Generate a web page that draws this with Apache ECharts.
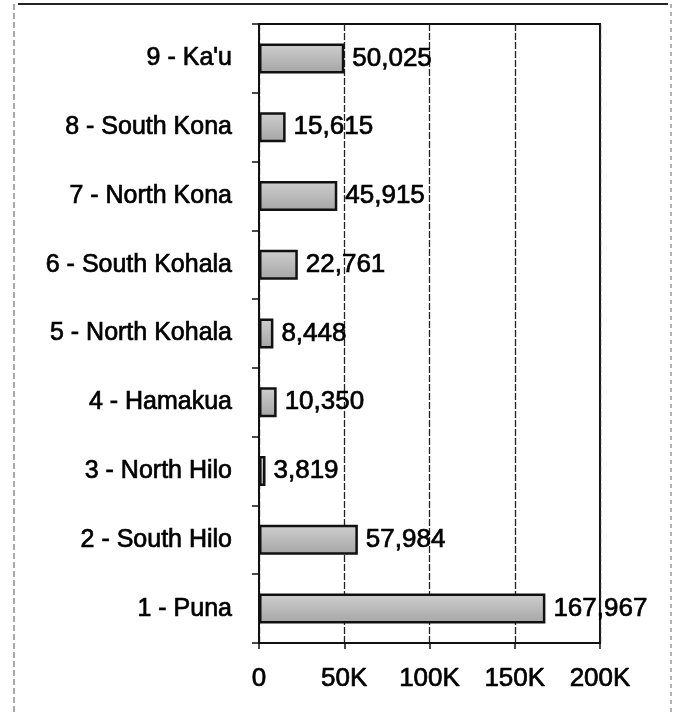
<!DOCTYPE html>
<html>
<head>
<meta charset="utf-8">
<title>Population by district</title>
<script src="https://cdn.jsdelivr.net/npm/echarts@6/dist/echarts.min.js"></script>
</head>
<body style="margin:0;padding:0;background:#fff;">
<div id="main" style="width:673px;height:715px;"></div>
<script>
// districts, bottom to top
var districts = ['1 - Puna', '2 - South Hilo', '3 - North Hilo', '4 - Hamakua', '5 - North Kohala',
                 '6 - South Kohala', '7 - North Kona', '8 - South Kona', "9 - Ka'u"];
var population = [167967, 57984, 3819, 10350, 8448, 22761, 45915, 15615, 50025];
var axisMax = 200000;
var axisStep = 50000;

var font = '"Liberation Sans", Arial, sans-serif';
var chart = echarts.init(document.getElementById('main'));

// scanned text looks heavy: thicken glyphs with a thin outline of the same colour
var heavy = { color: '#000', fontFamily: font, textBorderColor: '#000', textBorderWidth: 0.7 };

var option = {
    animation: false,
    backgroundColor: '#fff',
    grid: {
        left: 259, right: 73, top: 24, bottom: 72,
        show: true,
        borderColor: '#111',
        borderWidth: 2,
        backgroundColor: 'transparent'
    },
    xAxis: {
        type: 'value',
        min: 0,
        max: axisMax,
        interval: axisStep,
        axisLine: { show: true, lineStyle: { color: '#111', width: 2 } },
        axisTick: { show: true, length: 6, lineStyle: { color: '#111', width: 1.5 } },
        axisLabel: Object.assign({
            margin: 23,
            fontSize: 26,
            formatter: function (v) { return v === 0 ? '0' : (v / 1000) + 'K'; }
        }, heavy),
        splitLine: { show: true, lineStyle: { color: '#222', width: 1.3, type: [7, 2] } }
    },
    yAxis: {
        type: 'category',
        data: districts,
        axisLine: { show: true, lineStyle: { color: '#111', width: 2 } },
        axisTick: { show: true, length: 7, lineStyle: { color: '#111', width: 1.5 } },
        axisLabel: Object.assign({
            margin: 27,
            fontSize: 25
        }, heavy),
        splitLine: { show: false }
    },
    series: [{
        type: 'bar',
        data: population,
        barWidth: 30,
        itemStyle: {
            color: {
                type: 'linear', x: 0, y: 0, x2: 0, y2: 1,
                colorStops: [
                    { offset: 0, color: '#cfcfcf' },
                    { offset: 1, color: '#a5a5a5' }
                ]
            },
            borderColor: '#111',
            borderWidth: 2.5
        },
        label: Object.assign({
            show: true,
            position: 'right',
            distance: 8,
            fontSize: 26,
            formatter: function (p) { return p.value.toLocaleString('en-US'); }
        }, heavy)
    }],
    graphic: [
        { type: 'line', shape: { x1: 18, y1: 4, x2: 668, y2: 4 }, style: { stroke: '#222', lineWidth: 2 } },
        { type: 'line', shape: { x1: 14, y1: 4, x2: 14, y2: 715 }, style: { stroke: '#555', lineWidth: 1, lineDash: [6, 3] } },
        { type: 'line', shape: { x1: 671, y1: 4, x2: 671, y2: 715 }, style: { stroke: '#666', lineWidth: 1, lineDash: [4, 4] } }
    ]
};

chart.setOption(option);
</script>
</body>
</html>
